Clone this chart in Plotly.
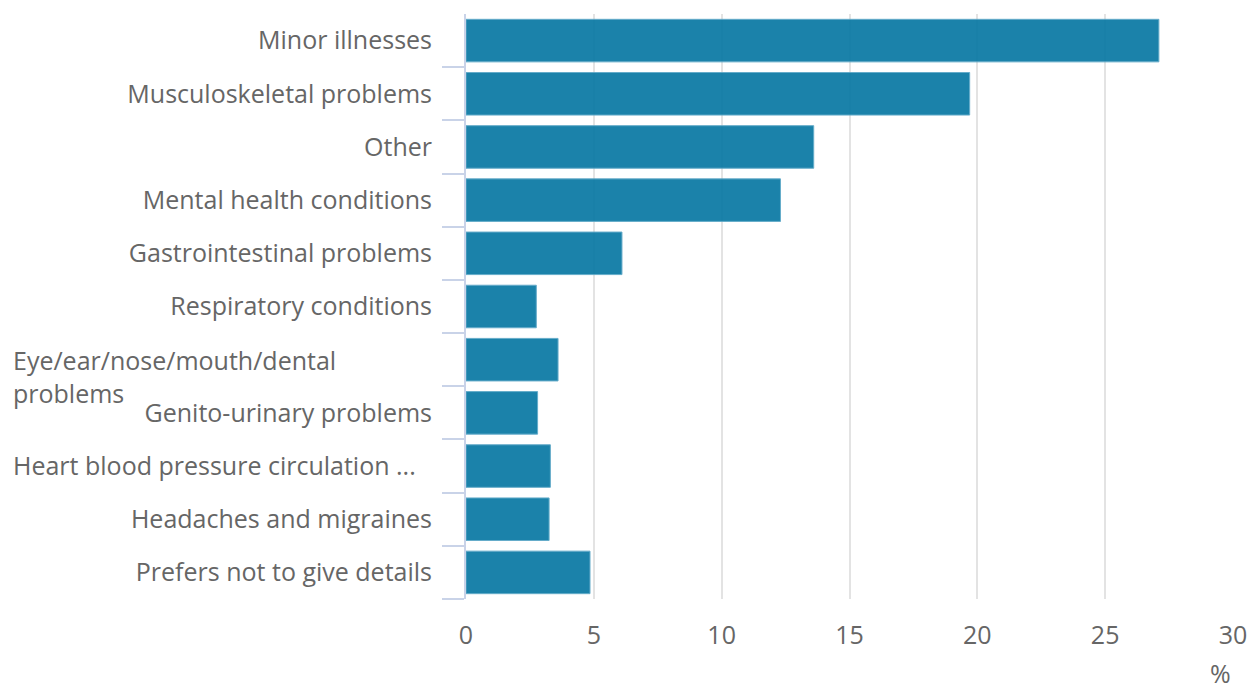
import plotly.graph_objects as go

categories = [
    "Minor illnesses",
    "Musculoskeletal problems",
    "Other",
    "Mental health conditions",
    "Gastrointestinal problems",
    "Respiratory conditions",
    "Eye/ear/nose/mouth/dental problems",
    "Genito-urinary problems",
    "Heart blood pressure circulation problems",
    "Headaches and migraines",
    "Prefers not to give details",
]
values = [27.1, 19.7, 13.6, 12.3, 6.1, 2.75, 3.6, 2.8, 3.3, 3.25, 4.85]
x_ticks = [0, 5, 10, 15, 20, 25, 30]

# labels drawn separately (wrapped / truncated in the reference)
wrapped = {
    "Eye/ear/nose/mouth/dental problems": "Eye/ear/nose/mouth/dental<br>problems",
    "Heart blood pressure circulation problems": "Heart blood pressure circulation ...",
}

font_family = "Open Sans"
font_size = 25
label_color = "#666666"
axis_color = "#c9d3e8"

ticktext = ["" if c in wrapped else c for c in categories]

fig = go.Figure(
    go.Bar(
        x=values,
        y=categories,
        orientation="h",
        marker=dict(color="rgb(10,121,164)", opacity=0.93,
                    line=dict(color="#5aa6c6", width=1)),
        hoverinfo="x+y",
    )
)

plot_w = 1254 - 466 - 21
annotations = []
for c, txt in wrapped.items():
    multi = "<br>" in txt
    annotations.append(dict(
        xref="paper", yref="y", x=-(466 - 11) / plot_w, y=c,
        text=txt, showarrow=False, xanchor="left", yanchor="middle",
        align="left", yshift=-17 if multi else 1,
        font=dict(family=font_family, size=font_size, color=label_color),
    ))
annotations.append(dict(
    xref="paper", yref="paper", x=1, y=-(673 - 599) / (691 - 14 - 92),
    text="%", showarrow=False,
    xanchor="right", yanchor="middle",
    font=dict(family=font_family, size=font_size, color=label_color),
))

fig.update_layout(
    width=1254, height=691,
    margin=dict(l=466, r=21, t=14, b=92),
    paper_bgcolor="white", plot_bgcolor="white",
    bargap=0.2,
    showlegend=False,
    font=dict(family=font_family, size=font_size, color=label_color),
    xaxis=dict(
        range=[0, 30], tickvals=x_ticks, ticktext=[str(v) for v in x_ticks],
        showgrid=True, gridcolor="#e3e3e3", gridwidth=2,
        zeroline=False, showline=False, ticks="", ticklabelstandoff=19,
        tickfont=dict(family=font_family, size=font_size, color=label_color),
        fixedrange=True, automargin=False,
    ),
    yaxis=dict(
        categoryorder="array", categoryarray=categories[::-1],
        tickvals=categories, ticktext=ticktext,
        showline=True, linecolor=axis_color, linewidth=2,
        ticks="outside", tickson="boundaries", ticklen=22,
        tickcolor=axis_color, tickwidth=2,
        showgrid=False, zeroline=False,
        tickfont=dict(family=font_family, size=font_size, color=label_color),
        ticklabelstandoff=27, automargin=False,
    ),
    annotations=annotations,
)

fig.write_html(
    "out.html",
    config={"displayModeBar": False},
    post_script="document.body.style.margin='0';document.body.style.overflow='hidden';",
)
